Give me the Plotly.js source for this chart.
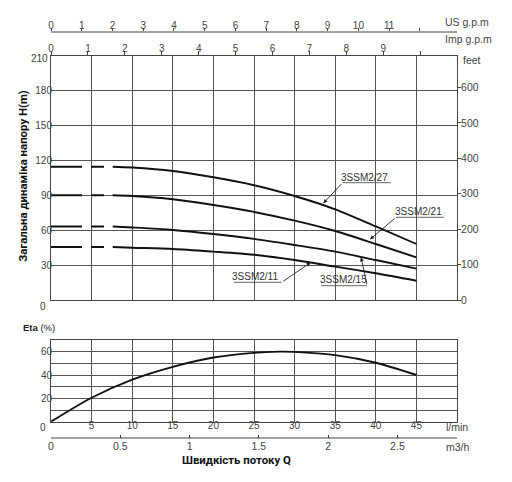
<!DOCTYPE html>
<html>
<head>
<meta charset="utf-8">
<script src="https://cdn.plot.ly/plotly-3.0.1.min.js"></script>
<style>html,body{margin:0;padding:0;background:#fff}#chart{width:512px;height:482px}</style>
</head>
<body>
<div id="chart"></div>
<script>
// ---- data ----
var flow = [7.6, 10, 15, 20, 25, 30, 35, 40, 45];            // l/min
var h27 = [114.7, 114, 111, 105.6, 98.8, 89.5, 78, 63.3, 48.2];
var h21 = [90.1, 89.5, 86.7, 81.8, 75.8, 68.3, 59.4, 48.2, 36.7];
var h15 = [63.2, 62.4, 60.3, 56.8, 52.6, 47.3, 41.6, 34.4, 27];
var h11 = [45.6, 45, 43.9, 41.6, 38.9, 34.4, 28.7, 23, 16.6];
var pumpNames = ['3SSM2/27', '3SSM2/21', '3SSM2/15', '3SSM2/11'];

var etaFlow = [0, 5, 10, 15, 20, 25, 28, 30, 35, 40, 45];
var eta = [0, 20.5, 36, 47, 55, 59, 60, 59.8, 57, 50.5, 40];

var flowTicks = [0, 5, 10, 15, 20, 25, 30, 35, 40, 45, 50];
var flowLabels = ['', '5', '10', '15', '20', '25', '30', '35', '40', '45', ''];
var headTicks = [0, 30, 60, 90, 120, 150, 180, 210];
var headLabels = ['', '30', '60', '90', '120', '150', '180', '210'];
var etaTicks = [0, 10, 20, 30, 40, 50, 60, 70];
var etaLabels = ['', '', '20', '', '40', '', '60', ''];
var feetTicks = [0, 100, 200, 300, 400, 500, 600];
var usTicks = [0, 1, 2, 3, 4, 5, 6, 7, 8, 9, 10, 11, 12];
var usLabels = ['0', '1', '2', '3', '4', '5', '6', '7', '8', '9', '10', '11', ''];
var impTicks = [0, 1, 2, 3, 4, 5, 6, 7, 8, 9, 10];
var impLabels = ['0', '1', '2', '3', '4', '5', '6', '7', '8', '9', ''];
var m3Ticks = [0, 0.5, 1, 1.5, 2, 2.5];
var m3Labels = ['0', '0.5', '1', '1.5', '2', '2.5'];

var M_TO_FT = 3.28084, USG = 3.78541, IMPG = 4.54609;

// ---- styling ----
var FONT = 'Liberation Sans, Arial, sans-serif';
var TFONT = 'Roboto, Liberation Sans, Arial, sans-serif';
var TXT = '#444';
var GRID = '#555';
var LINE = '#111';
var tickFont = {family: FONT, size: 10, color: TXT};

var heads = [h27, h21, h15, h11];
var traces = [];
heads.forEach(function (h, i) {
  traces.push({x: [0, flow[0]], y: [h[0], h[0]], mode: 'lines', xaxis: 'x', yaxis: 'y',
    line: {color: LINE, width: 1.9, dash: '31px,9px,13px,9px'}, hoverinfo: 'skip', showlegend: false});
  traces.push({x: flow, y: h, name: pumpNames[i], mode: 'lines', xaxis: 'x', yaxis: 'y',
    line: {color: LINE, width: 1.9, shape: 'spline', smoothing: 0.8}, showlegend: false});
});
traces.push({x: etaFlow, y: eta, mode: 'lines', xaxis: 'x', yaxis: 'y2',
  line: {color: LINE, width: 1.9, shape: 'spline', smoothing: 0.8}, showlegend: false});
// invisible helper traces so secondary axes exist
traces.push({x: flow.map(function (q) { return q / USG; }), y: flow.map(function () { return 0.5; }),
  xaxis: 'x3', yaxis: 'y3', mode: 'markers', marker: {opacity: 0}, hoverinfo: 'skip', showlegend: false});
traces.push({x: flow.map(function (q) { return q / IMPG; }), y: h27, xaxis: 'x4', yaxis: 'y',
  mode: 'markers', marker: {opacity: 0}, hoverinfo: 'skip', showlegend: false});
traces.push({x: flow, y: h27.map(function (v) { return v * M_TO_FT; }), xaxis: 'x', yaxis: 'y4',
  mode: 'markers', marker: {opacity: 0}, hoverinfo: 'skip', showlegend: false});
traces.push({x: flow.map(function (q) { return q * 0.06; }), y: flow.map(function () { return 0.5; }),
  xaxis: 'x5', yaxis: 'y5', mode: 'markers', marker: {opacity: 0}, hoverinfo: 'skip', showlegend: false});

// label geometry (data coords: l/min, m)
var lab = [
  {t: [38.63, 105.6], tail: [35.92, 100.96], tip: [33.53, 83.2], ul: [35.88, 41.84]},
  {t: [45.2, 76.0], tail: [42.49, 71.18], tip: [39.29, 52.2], ul: [42.49, 48.4]},
  {t: [36.0, 17.8], tail: [38.95, 12.31], tip: [38.18, 36.8], ul: [33.25, 38.92]},
  {t: [25.16, 20.05], tail: [28.41, 15.23], tip: [31.98, 32.3], ul: [22.54, 28.41]}
];
var annotations = [], shapes = [];
lab.forEach(function (L, i) {
  annotations.push({xref: 'x', yref: 'y', x: L.t[0], y: L.t[1], text: pumpNames[i], showarrow: false,
    font: {family: FONT, size: 10, color: '#333'}, xanchor: 'center', yanchor: 'middle'});
  annotations.push({xref: 'x', yref: 'y', axref: 'x', ayref: 'y', x: L.tip[0], y: L.tip[1],
    ax: L.tail[0], ay: L.tail[1], text: '', showarrow: true, arrowhead: 2, arrowsize: 0.9,
    arrowwidth: 0.9, arrowcolor: '#222', standoff: 0, startstandoff: 0});
  shapes.push({type: 'line', xref: 'x', yref: 'y', x0: L.ul[0], x1: L.ul[1], y0: L.tail[1], y1: L.tail[1],
    line: {color: '#555', width: 0.9}});
});

function pa(x, y, text, opt) {
  var a = {xref: 'paper', yref: 'paper', x: x, y: y, text: text, showarrow: false,
    font: {family: FONT, size: 10, color: TXT}, xanchor: 'left', yanchor: 'middle'};
  for (var k in opt) a[k] = opt[k];
  return a;
}
// plot area: x 51..457 px, y 10..452 px
function px(x) { return (x - 51) / 406; }
function py(y) { return (452 - y) / 442; }

// secondary scale base lines (US g.p.m and m3/h)
shapes.push({type: 'line', xref: 'paper', yref: 'paper', x0: 0, x1: 1, y0: py(32), y1: py(32),
  line: {color: '#444', width: 1}});
shapes.push({type: 'line', xref: 'paper', yref: 'paper', x0: 0, x1: 1, y0: py(438), y1: py(438),
  line: {color: '#444', width: 1}});

// top tick label of head axis sits a little below its grid line in the reference
var topHead = headLabels[headLabels.length - 1];
var headAxisText = headLabels.slice(0, -1).concat(['']);
annotations.push(pa(px(50), py(58.5), topHead, {xanchor: 'right'}));

annotations.push(pa(px(443), py(22), 'US g.p.m', {font: {family: FONT, size: 10.5, color: TXT}}));
annotations.push(pa(px(443), py(39), 'Imp g.p.m', {font: {family: FONT, size: 10.5, color: TXT}}));
annotations.push(pa(px(461), py(60), 'feet', {font: {family: FONT, size: 10.5, color: TXT}}));
annotations.push(pa(px(48), py(306.5), '0', {xanchor: 'right'}));
annotations.push(pa(px(48), py(427.3), '0', {xanchor: 'right'}));
annotations.push(pa(px(444), py(427.3), 'l/min', {font: {family: FONT, size: 10.5, color: TXT}}));
annotations.push(pa(px(444), py(446.7), 'm3/h', {font: {family: FONT, size: 10.5, color: TXT}}));
annotations.push(pa(px(20.5), py(327.3), '<b>Eta</b> (%)', {font: {family: FONT, size: 9.5, color: '#222'}}));
annotations.push(pa(px(22.7), py(176), '<b>Загальна динаміка напору H(m)</b>',
  {xanchor: 'center', textangle: -90, font: {family: TFONT, size: 11.4, color: '#111'}}));
annotations.push(pa(px(236.5), py(460), '<b>Швидкість потоку Q</b>',
  {xanchor: 'center', font: {family: TFONT, size: 11.4, color: '#111'}}));

var baseAxis = {showgrid: true, gridcolor: GRID, gridwidth: 1, showline: true, linecolor: '#444',
  linewidth: 1, zeroline: false, ticks: '', tickfont: tickFont, fixedrange: true};
function ext(o, p) { var r = {}; for (var k in o) r[k] = o[k]; for (var k2 in p) r[k2] = p[k2]; return r; }
var hiddenY = {showgrid: false, showline: false, zeroline: false, ticks: '', showticklabels: false,
  range: [0, 1], fixedrange: true};

var layout = {
  width: 512, height: 482,
  margin: {l: 51, r: 55, t: 10, b: 30, pad: 0},
  paper_bgcolor: '#fff', plot_bgcolor: 'rgba(0,0,0,0)',
  showlegend: false,
  font: {family: FONT, color: TXT},
  xaxis: ext(baseAxis, {domain: [0, 1], range: [0, 50], anchor: 'y2', tickmode: 'array',
    tickvals: flowTicks, ticktext: flowLabels, mirror: 'all', ticklabelstandoff: -6}),
  yaxis: ext(baseAxis, {domain: [py(300), py(56)], range: [0, 210], anchor: 'x', tickmode: 'array',
    tickvals: headTicks, ticktext: headAxisText, mirror: 'all', ticklabelstandoff: -4}),
  yaxis2: ext(baseAxis, {domain: [py(421.7), py(340)], range: [0, 70], anchor: 'x', tickmode: 'array',
    tickvals: etaTicks, ticktext: etaLabels, mirror: 'all', ticklabelstandoff: -4}),
  xaxis3: {domain: [0, 1], range: [0, 50 / USG], anchor: 'y3', side: 'top', tickmode: 'array',
    tickvals: usTicks, ticktext: usLabels, ticks: 'outside', ticklen: 3, tickcolor: '#444',
    showline: false, showgrid: false, zeroline: false,
    tickfont: tickFont, fixedrange: true, ticklabelstandoff: -5},
  yaxis3: ext(hiddenY, {domain: [py(40), py(32)], anchor: 'x3'}),
  xaxis4: {overlaying: 'x', anchor: 'y', side: 'top', range: [0, 50 / IMPG], tickmode: 'array',
    tickvals: impTicks, ticktext: impLabels, ticks: 'outside', ticklen: 4, tickcolor: '#444',
    showline: false, showgrid: false, zeroline: false, tickfont: tickFont, fixedrange: true,
    ticklabelstandoff: -5},
  yaxis4: {overlaying: 'y', anchor: 'x', side: 'right', range: [0, 210 * M_TO_FT], tickmode: 'array',
    tickvals: feetTicks, ticks: 'outside', ticklen: 3, tickcolor: '#444', showline: false,
    showgrid: false, zeroline: false, tickfont: {family: FONT, size: 10.5, color: TXT}, fixedrange: true,
    ticklabelstandoff: -2},
  xaxis5: {domain: [0, 1], range: [0, 2.93], anchor: 'y5', side: 'bottom', tickmode: 'array',
    tickvals: m3Ticks, ticktext: m3Labels, ticks: 'inside', ticklen: 3, tickcolor: '#333',
    showline: false, showgrid: false, zeroline: false,
    tickfont: {family: FONT, size: 10.5, color: TXT}, fixedrange: true, ticklabelstandoff: 0},
  yaxis5: ext(hiddenY, {domain: [py(438), py(430)], anchor: 'x5'}),
  annotations: annotations,
  shapes: shapes
};

Plotly.newPlot('chart', traces, layout, {displayModeBar: false, staticPlot: true});
</script>
</body>
</html>
